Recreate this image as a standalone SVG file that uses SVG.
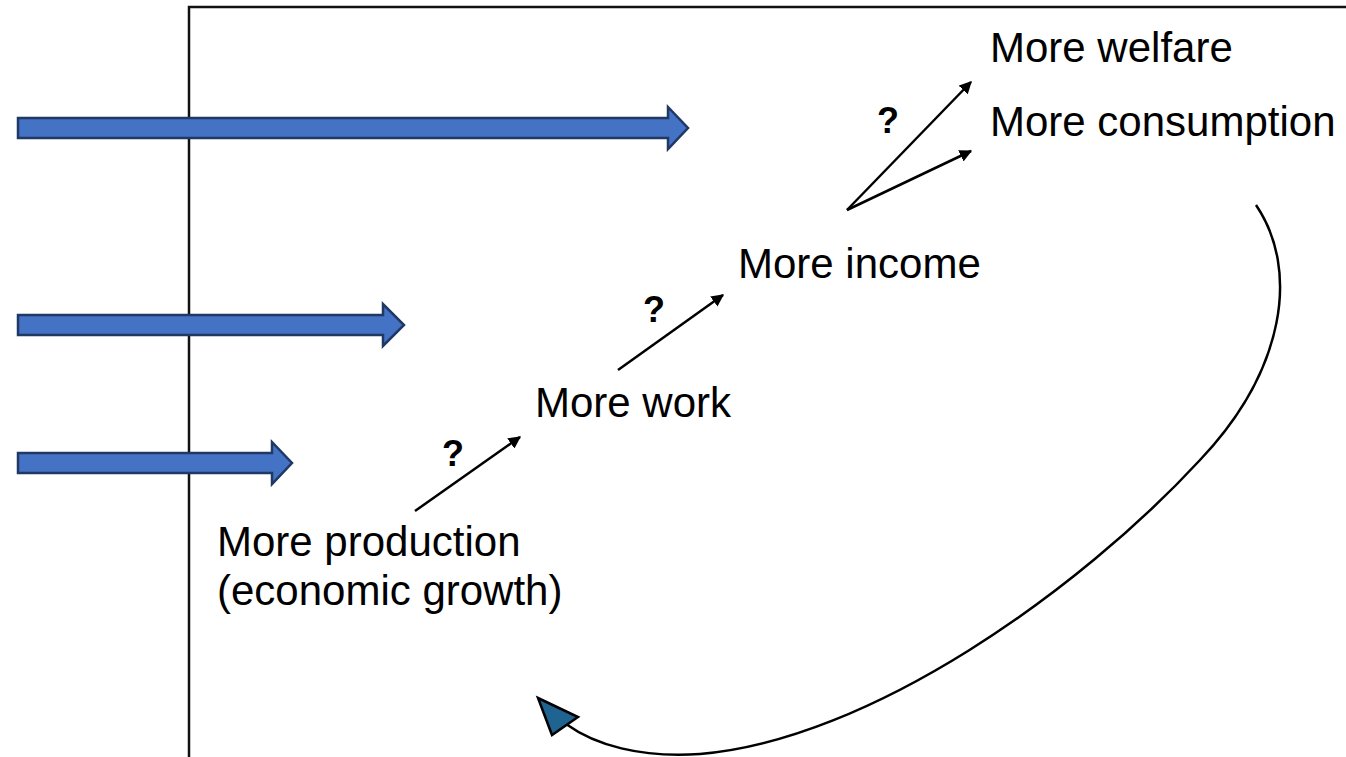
<svg xmlns="http://www.w3.org/2000/svg" width="1346" height="757" viewBox="0 0 1346 757">
<style>
.t{font-family:"Liberation Sans",Arial,sans-serif;font-size:42px;fill:#000}
.q{font-family:"Liberation Sans",Arial,sans-serif;font-size:36px;font-weight:bold;fill:#000}
.blk{fill:#4472C4;stroke:#1F3864;stroke-width:2.5;stroke-linejoin:miter}
.ln{stroke:#000;stroke-width:2.5;fill:none}
</style>
<defs>
<marker id="ah" viewBox="0 0 10 10" refX="9" refY="5" markerWidth="5" markerHeight="5" orient="auto" markerUnits="strokeWidth">
<path d="M0,0 L10,5 L0,10 z" fill="#000"/>
</marker>
</defs>
<rect width="1346" height="757" fill="#fff"/>
<g id="frame">
<path d="M189,757 V7 H1346" stroke="#111" stroke-width="2.5" fill="none"/>
</g>
<g id="big-arrows">
<path class="blk" d="M18,118 H668 V107 L688,128 L668,149 V138 H18 Z"/>
<path class="blk" d="M18,315 H383 V304 L404,325 L383,346 V335 H18 Z"/>
<path class="blk" d="M18,453 H272 V442 L292,463 L272,484 V473 H18 Z"/>
</g>
<g id="n-welfare"><text class="t" x="990" y="62">More welfare</text></g>
<g id="n-consumption"><text class="t" x="990" y="136">More consumption</text></g>
<g id="n-income"><text class="t" x="738" y="278">More income</text></g>
<g id="n-work"><text class="t" x="535" y="417">More work</text></g>
<g id="n-production"><text class="t" x="217" y="556">More production</text><text class="t" x="217" y="605">(economic growth)</text></g>
<g id="q-labels">
<text class="q" x="877" y="133">?</text>
<text class="q" x="643" y="322">?</text>
<text class="q" x="442" y="466">?</text>
</g>
<g id="connectors">
<line class="ln" x1="415" y1="511" x2="520" y2="437" marker-end="url(#ah)"/>
<line class="ln" x1="618" y1="370" x2="723" y2="295" marker-end="url(#ah)"/>
<line class="ln" x1="847" y1="210" x2="971" y2="82" marker-end="url(#ah)"/>
<line class="ln" x1="847" y1="210" x2="971" y2="151" marker-end="url(#ah)"/>
<path class="ln" d="M1256,205 C1300,270 1285,370 1200,460 C1080,590 870,740 700,754 C640,758 595,745 566,724"/>
<polygon points="538,698 578,717 552,735" fill="#1F6391" stroke="#000" stroke-width="2.5" stroke-linejoin="miter"/>
</g>
</svg>
